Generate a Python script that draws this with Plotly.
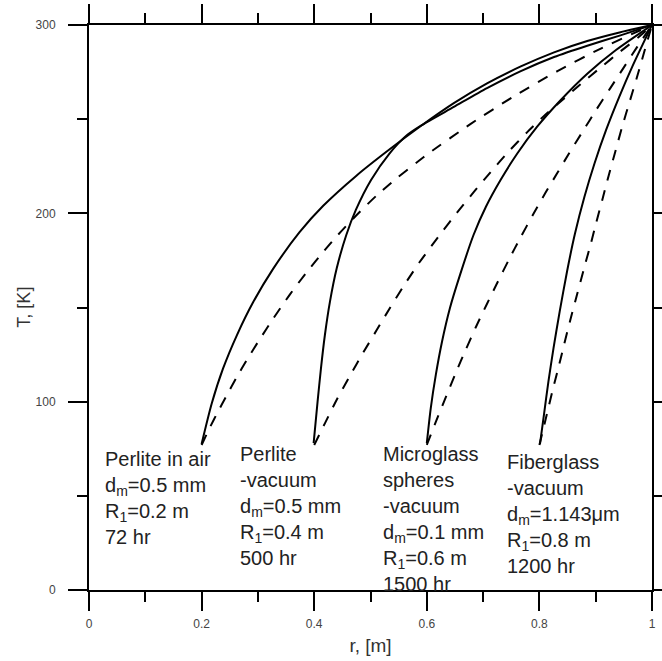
import plotly.graph_objects as go

# ---- data ----
# Solid curves
r_air_solid = [0.2, 0.218, 0.238, 0.263, 0.291, 0.327, 0.374, 0.416, 0.475, 0.534, 0.59, 0.648, 0.707, 0.767, 0.826, 0.885, 0.944, 1.0]
T_air_solid = [77.5, 99, 117.5, 135.5, 152.5, 170.5, 190, 204, 220, 234, 246.5, 258.5, 269, 278, 285.5, 291.5, 296.2, 300]

r_perl_solid = [0.399, 0.406, 0.412, 0.419, 0.428, 0.44, 0.457, 0.474, 0.501, 0.534, 0.565, 0.589, 0.648, 0.707, 0.767, 0.826, 0.885, 0.944, 1.0]
T_perl_solid = [78, 100, 117.7, 135.4, 153.1, 170.8, 188.5, 201.8, 217.7, 231.9, 241.6, 246.5, 256.5, 266.5, 275.5, 283, 289, 294.5, 300]

r_micro_solid = [0.6, 0.607, 0.616, 0.627, 0.641, 0.659, 0.683, 0.705, 0.731, 0.761, 0.796, 0.838, 0.886, 0.936, 1.0]
T_micro_solid = [78, 96.5, 114.2, 131.8, 149.6, 167.3, 188.5, 203.5, 217.7, 231.9, 246, 260.2, 274.4, 286.7, 300]

r_fiber_solid = [0.801, 0.808, 0.816, 0.825, 0.836, 0.849, 0.863, 0.88, 0.898, 0.9185, 0.942, 0.965, 1.0]
T_fiber_solid = [77.4, 92.9, 110.6, 128.3, 147.8, 169, 189, 208.8, 226.6, 244.3, 262, 277.9, 300]

# Dashed curves
r_air_dash = [0.2, 0.215, 0.227, 0.244, 0.262, 0.28, 0.303, 0.327, 0.357, 0.386, 0.416, 0.442, 0.475, 0.511, 0.546, 0.582, 0.604, 0.678, 0.754, 0.832, 0.909, 1.0]
T_air_dash = [77, 86.5, 93.5, 103, 112.8, 122, 133, 144, 157, 168.5, 179.5, 188.5, 199, 209.5, 218.5, 227, 232, 247.5, 262, 275.5, 287.5, 300]

r_perl_dash = [0.4, 0.419, 0.44, 0.463, 0.487, 0.511, 0.534, 0.558, 0.587, 0.628, 0.654, 0.684, 0.713, 0.746, 0.778, 0.811, 0.844, 0.873, 0.909, 0.944, 0.98, 1.0]
T_perl_dash = [77, 88.5, 101, 113.5, 126, 138, 149.5, 161, 174, 190.5, 200.5, 211.5, 221.8, 233, 243, 252.5, 261, 268.5, 277.5, 286, 294.5, 300]

r_micro_dash = [0.6, 0.619, 0.634, 0.651, 0.669, 0.687, 0.707, 0.725, 0.746, 0.767, 0.79, 0.811, 0.832, 0.852, 0.879, 0.9, 0.926, 0.95, 0.974, 1.0]
T_micro_dash = [77, 91.5, 102.5, 115, 127.5, 139.5, 152, 163, 175.5, 187.5, 200, 211, 221.5, 231.5, 244.5, 254.5, 266.5, 277.5, 288.5, 300]

r_fiber_dash = [0.8, 0.813, 0.823, 0.835, 0.844, 0.855, 0.867, 0.879, 0.891, 0.9, 0.912, 0.923, 0.935, 0.947, 0.961, 0.973, 0.986, 1.0]
T_fiber_dash = [77, 93, 105.5, 119.5, 130.5, 143.5, 157, 170.5, 183.5, 194, 207.5, 220, 233, 246, 260, 272, 285.5, 300]

x_ticks = [0, 0.2, 0.4, 0.6, 0.8, 1]
x_ticklabels = ["0", "0.2", "0.4", "0.6", "0.8", "1"]
y_ticks = [0, 100, 200, 300]
y_ticklabels = ["0", "100", "200", "300"]

labels = [
    "Perlite in air<br>d<sub>m</sub>=0.5 mm<br>R<sub>1</sub>=0.2 m<br>72 hr",
    "Perlite<br>-vacuum<br>d<sub>m</sub>=0.5 mm<br>R<sub>1</sub>=0.4 m<br>500 hr",
    "Microglass<br>spheres<br>-vacuum<br>d<sub>m</sub>=0.1 mm<br>R<sub>1</sub>=0.6 m<br>1500 hr",
    "Fiberglass<br>-vacuum<br>d<sub>m</sub>=1.143\u03bcm<br>R<sub>1</sub>=0.8 m<br>1200 hr",
]
label_r = [0.0245, 0.2645, 0.5185, 0.7385]
label_T = [76.5, 79, 79, 75]

fig = go.Figure()

solid = [(r_air_solid, T_air_solid), (r_perl_solid, T_perl_solid),
         (r_micro_solid, T_micro_solid), (r_fiber_solid, T_fiber_solid)]
dashed = [(r_air_dash, T_air_dash), (r_perl_dash, T_perl_dash),
          (r_micro_dash, T_micro_dash), (r_fiber_dash, T_fiber_dash)]

for r, T in dashed:
    fig.add_trace(go.Scatter(x=r, y=T, mode="lines", showlegend=False,
                             line=dict(color="black", width=2, dash="11px,10px",
                                       shape="spline", smoothing=0.7)))
for r, T in solid:
    fig.add_trace(go.Scatter(x=r, y=T, mode="lines", showlegend=False,
                             line=dict(color="black", width=2,
                                       shape="spline", smoothing=0.7)))

for txt, xr, yt in zip(labels, label_r, label_T):
    fig.add_annotation(x=xr, y=yt, xref="x", yref="y", text=txt, showarrow=False,
                       xanchor="left", yanchor="top", align="left",
                       font=dict(family="Liberation Sans, Arial", size=20, color="#222"))

# y-axis title placed as rotated text
fig.add_annotation(x=-0.117, y=0.5, xref="paper", yref="paper", text="T, [K]",
                   showarrow=False, textangle=-90, xanchor="center", yanchor="middle",
                   font=dict(family="Liberation Sans, Arial", size=18, color="#333"))

axis_common = dict(showline=True, linewidth=2, linecolor="black", mirror="allticks",
                   ticks="outside", ticklen=19, tickwidth=2, tickcolor="black",
                   showgrid=False, zeroline=False,
                   tickfont=dict(family="Liberation Sans, Arial", size=12, color="#444"))

fig.update_xaxes(range=[0, 1], tickvals=x_ticks, ticktext=x_ticklabels,
                 minor=dict(dtick=0.1, tick0=0, ticks="outside", ticklen=10, tickwidth=2, tickcolor="black"),
                 title=dict(text="r, [m]", standoff=8,
                            font=dict(family="Liberation Sans, Arial", size=19, color="#333")),
                 ticklabelstandoff=3,
                 **axis_common)
fig.update_yaxes(range=[0, 300], tickvals=y_ticks, ticktext=y_ticklabels,
                 minor=dict(dtick=50, tick0=0, ticks="outside", ticklen=10, tickwidth=2, tickcolor="black"),
                 ticklabelstandoff=10,
                 **axis_common)

fig.update_layout(width=662, height=661, margin=dict(l=89, r=10, t=25, b=71, autoexpand=False),
                  plot_bgcolor="white", paper_bgcolor="white")

fig.write_html("out.html")
